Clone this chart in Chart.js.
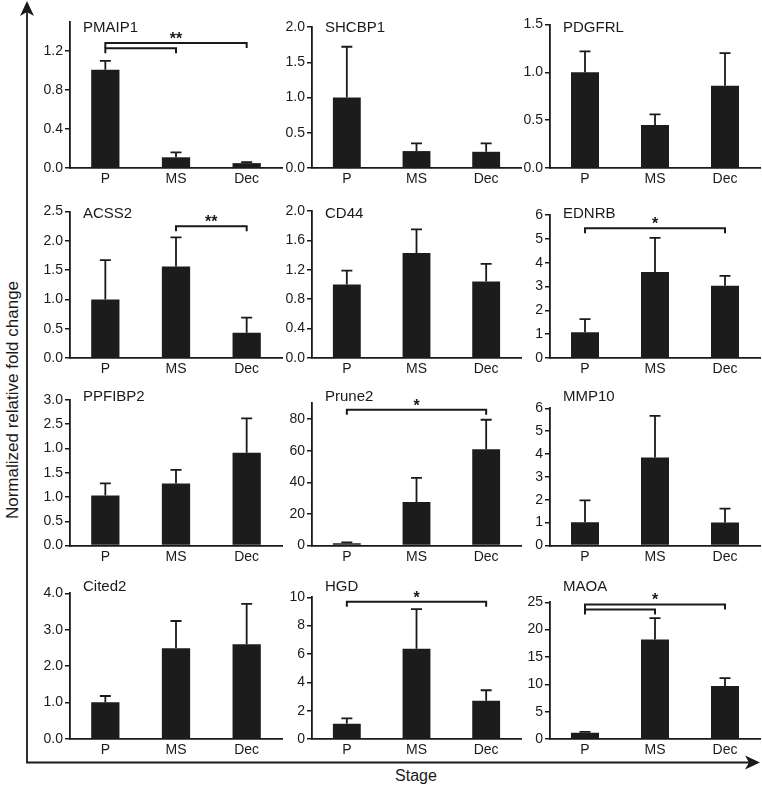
<!DOCTYPE html>
<html>
<head>
<meta charset="utf-8">
<script src="https://cdn.jsdelivr.net/npm/chart.js@4.4.0/dist/chart.umd.min.js"></script>
<style>
  html, body { margin:0; padding:0; background:#fff; }
  #wrap { position:relative; width:762px; height:791px; overflow:hidden; font-family: Arial, "Liberation Sans", sans-serif; color:#1a1a1a; }
  #wrap canvas { position:absolute; }
  #frame { position:absolute; left:0; top:0; }
  .ylab { position:absolute; left:12px; top:400px; transform:translate(-50%,-50%) rotate(-90deg); white-space:nowrap; font-size:17px; line-height:17px; }
  .xlab { position:absolute; left:416px; top:768px; transform:translateX(-50%); font-size:16px; line-height:16px; white-space:nowrap; }
</style>
</head>
<body>
<div id="wrap">
  <svg id="frame" width="762" height="791">
    <line x1="27" y1="10" x2="27" y2="762.5" stroke="#1a1a1a" stroke-width="1.8"/>
    <line x1="26.1" y1="762.5" x2="751" y2="762.5" stroke="#1a1a1a" stroke-width="1.8"/>
    <path d="M27 1 L34 16 L27 12 L20 16 Z" fill="#1a1a1a"/>
    <path d="M760 762.5 L745 755.5 L749 762.5 L745 769.5 Z" fill="#1a1a1a"/>
  </svg>
  <div class="ylab">Normalized relative fold change</div>
  <div class="xlab">Stage</div>
</div>
<script>
// data (mean and upper error per stage)
const stages = ['P', 'MS', 'Dec'];
const genes = ['PMAIP1', 'SHCBP1', 'PDGFRL', 'ACSS2', 'CD44', 'EDNRB',
               'PPFIBP2', 'Prune2', 'MMP10', 'Cited2', 'HGD', 'MAOA'];
const means = [
  [1.01, 0.11, 0.05], [1.0, 0.24, 0.23], [1.0, 0.45, 0.86],
  [1.0, 1.56, 0.43], [1.0, 1.43, 1.04], [1.08, 3.61, 3.03],
  [1.03, 1.28, 1.91], [1.5, 27.6, 60.9], [1.02, 3.85, 1.01],
  [1.01, 2.49, 2.60], [1.08, 6.37, 2.70], [1.16, 18.2, 9.69]
];
const sems = [
  [0.09, 0.05, 0.01], [0.72, 0.11, 0.12], [0.22, 0.11, 0.34],
  [0.67, 0.50, 0.26], [0.19, 0.32, 0.24], [0.55, 1.43, 0.42],
  [0.25, 0.28, 0.71], [0.5, 15.2, 18.7], [0.95, 1.82, 0.60],
  [0.17, 0.75, 1.11], [0.38, 2.80, 0.74], [0.14, 3.9, 1.46]
];
const yMax = [1.5, 2.0, 1.5, 2.5, 2.0, 6, 3.0, 90, 6, 4.0, 10, 25];
const yTicks = [
  [0, 0.4, 0.8, 1.2], [0, 0.5, 1, 1.5, 2], [0, 0.5, 1, 1.5],
  [0, 0.5, 1, 1.5, 2, 2.5], [0, 0.4, 0.8, 1.2, 1.6, 2], [0, 1, 2, 3, 4, 5, 6],
  [0, 0.5, 1, 1.5, 2, 2.5, 3], [0, 20, 40, 60, 80], [0, 1, 2, 3, 4, 5, 6],
  [0, 1, 2, 3, 4], [0, 2, 4, 6, 8, 10], [0, 5, 10, 15, 20, 25]
];
const yTickLabels = [
  ['0.0', '0.4', '0.8', '1.2'], ['0.0', '0.5', '1.0', '1.5', '2.0'], ['0.0', '0.5', '1.0', '1.5'],
  ['0.0', '0.5', '1.0', '1.5', '2.0', '2.5'], ['0.0', '0.4', '0.8', '1.2', '1.6', '2.0'], ['0', '1', '2', '3', '4', '5', '6'],
  ['0.0', '0.5', '1.0', '1.5', '1.0', '2.5', '3.0'], ['0', '20', '40', '60', '80'], ['0', '1', '2', '3', '4', '5', '6'],
  ['0.0', '1.0', '2.0', '3.0', '4.0'], ['0', '2', '4', '6', '8', '10'], ['0', '5', '10', '15', '20', '25']
];
// significance brackets: [fromStage, toStage, level]
const brackets = [
  [[0, 2, 1.285], [0, 1, 1.23]], [], [],
  [[1, 2, 2.25]], [], [[0, 2, 5.44]],
  [], [[0, 2, 85.9]], [],
  [], [[0, 2, 9.69]], [[0, 2, 24.6], [0, 1, 23.7]]
];
const sigLabels = ['**', '', '', '**', '', '*', '', '*', '', '', '*', '*'];

// layout of the 4x3 grid
const colAxisX = [70, 312, 550];
const colRight = [282, 521, 760];
const rowTop = [0, 188, 372, 560];
const rowBottom = [168, 358, 545.5, 739];
const plotTops = [22, 27, 24.5, 211.5, 211, 215, 400, 403.3, 408.3, 593.3, 597.3, 602.3];
const titleBaseline = [32, 217.5, 401, 591];

const ink = '#1a1a1a';
Chart.defaults.font.family = 'Arial, "Liberation Sans", sans-serif';
Chart.defaults.color = ink;

const extras = {
  id: 'extras',
  afterDatasetsDraw(chart, args, opts) {
    const i = opts.idx;
    const ctx = chart.ctx;
    const x = chart.scales.x, y = chart.scales.y;
    const meta = chart.getDatasetMeta(0);
    ctx.save();
    ctx.strokeStyle = ink;
    ctx.fillStyle = ink;
    ctx.lineWidth = 1.8;
    // error bars (upper only)
    meta.data.forEach((bar, k) => {
      const top = y.getPixelForValue(means[i][k] + sems[i][k]);
      ctx.beginPath();
      ctx.moveTo(bar.x, bar.y);
      ctx.lineTo(bar.x, top);
      ctx.moveTo(bar.x - 5.5, top);
      ctx.lineTo(bar.x + 5.5, top);
      ctx.stroke();
    });
    // brackets
    ctx.lineWidth = 2;
    brackets[i].forEach(b => {
      const xa = x.getPixelForValue(b[0]);
      const xb = x.getPixelForValue(b[1]);
      const yy = y.getPixelForValue(b[2]);
      ctx.beginPath();
      ctx.moveTo(xa, yy + 5);
      ctx.lineTo(xa, yy);
      ctx.lineTo(xb, yy);
      ctx.lineTo(xb, yy + 5);
      ctx.stroke();
    });
    if (brackets[i].length) {
      const b = brackets[i][0];
      const mid = (x.getPixelForValue(b[0]) + x.getPixelForValue(b[1])) / 2;
      ctx.font = 'bold 16px Arial, "Liberation Sans", sans-serif';
      ctx.textAlign = 'center';
      ctx.textBaseline = 'alphabetic';
      ctx.fillText(sigLabels[i], mid, y.getPixelForValue(b[2]) + 1);
    }
    // gene name
    ctx.font = '15px Arial, "Liberation Sans", sans-serif';
    ctx.textAlign = 'left';
    ctx.textBaseline = 'alphabetic';
    ctx.fillText(genes[i], chart.chartArea.left + 13, opts.titleY);
    ctx.restore();
  }
};

const wrap = document.getElementById('wrap');

genes.forEach((gene, i) => {
  const row = Math.floor(i / 3), col = i % 3;
  const left = colAxisX[col] - 45;
  const top = rowTop[row];
  const w = colRight[col] - colAxisX[col] + 47;
  const h = Math.ceil(rowBottom[row] + 25 - top);
  const xH = h - (rowBottom[row] - top);

  const canvas = document.createElement('canvas');
  canvas.width = w; canvas.height = h;
  canvas.style.left = left + 'px';
  canvas.style.top = top + 'px';
  canvas.style.width = w + 'px';
  canvas.style.height = h + 'px';
  wrap.appendChild(canvas);

  new Chart(canvas.getContext('2d'), {
    type: 'bar',
    data: {
      labels: stages,
      datasets: [{ data: means[i], backgroundColor: '#1c1c1c', borderWidth: 0,
                   barPercentage: 1, categoryPercentage: 0.4 }]
    },
    options: {
      responsive: false,
      animation: false,
      devicePixelRatio: 1,
      layout: { padding: { top: plotTops[i] - top, right: 2, left: 0, bottom: 0 } },
      plugins: { legend: { display: false }, tooltip: { enabled: false },
                 extras: { idx: i, titleY: titleBaseline[row] - top } },
      scales: {
        x: {
          afterFit: s => { s.height = xH; },
          grid: { display: false, drawTicks: false },
          border: { display: true, color: ink, width: 1.8 },
          ticks: { font: { size: 14 }, color: ink, padding: 3, maxRotation: 0, autoSkip: false }
        },
        y: {
          min: 0, max: yMax[i],
          afterBuildTicks: s => { s.ticks = yTicks[i].map(v => ({ value: v })); },
          afterFit: s => { s.width = 45; },
          grid: { display: true, drawOnChartArea: false, drawTicks: true, tickLength: 5, color: ink, lineWidth: 1.5 },
          border: { display: true, color: ink, width: 1.8 },
          ticks: { font: { size: 14 }, color: ink, padding: 2, autoSkip: false,
                   callback: (v, k) => yTickLabels[i][k] }
        }
      }
    },
    plugins: [extras]
  });
});
</script>
</body>
</html>
